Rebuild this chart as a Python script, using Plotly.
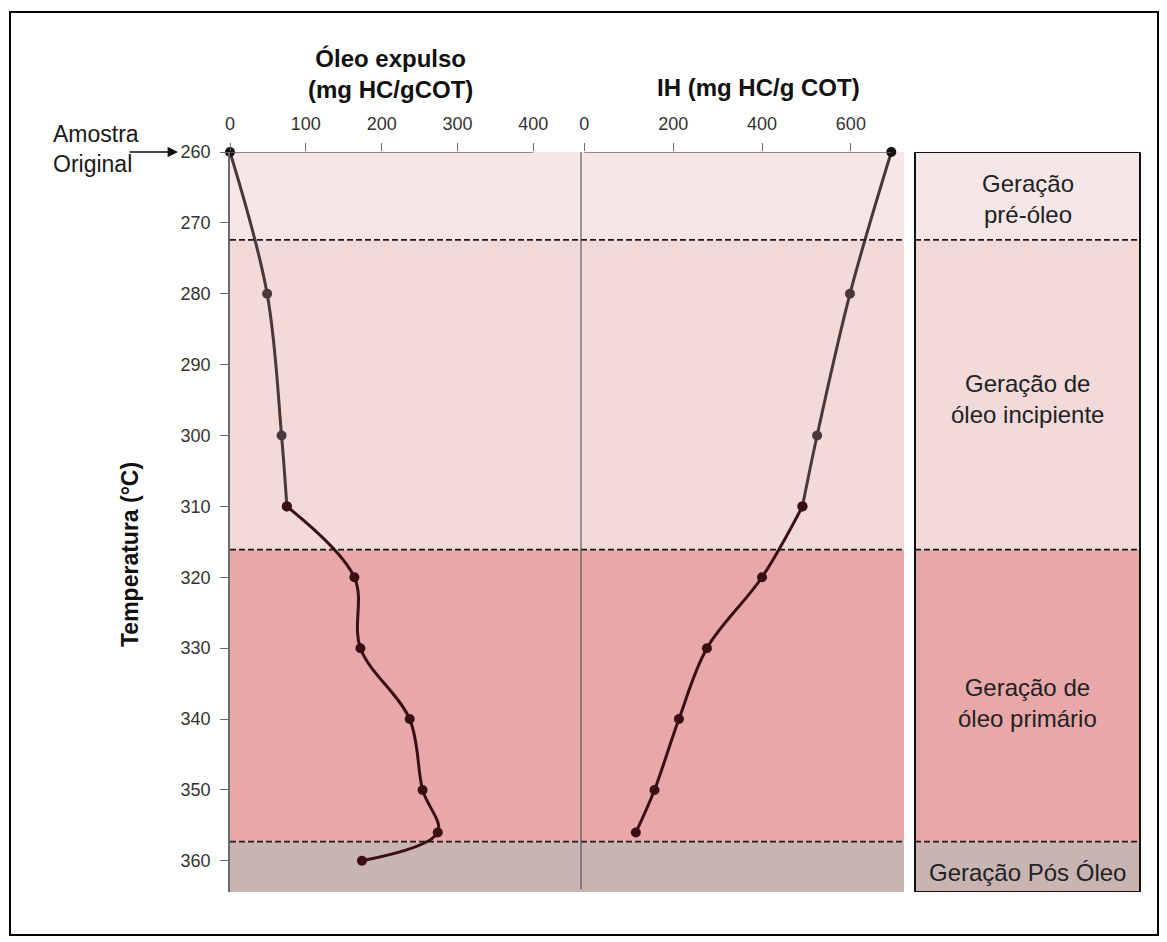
import plotly.graph_objects as go

# ---------------- data ----------------
temps_oleo = [260, 280, 300, 310, 320, 330, 340, 350, 356, 360]
oleo_expulso = [0, 49, 68, 75, 164, 172, 237, 254, 274, 174]

temps_ih = [260, 280, 300, 310, 320, 330, 340, 350, 356]
ih_values = [691, 598, 524, 491, 400, 276, 213, 158, 116]

zone_bounds = [260, 272.4, 316.1, 357.3, 364.4]
zone_labels = ["Geração<br>pré-óleo", "Geração de<br>óleo incipiente",
               "Geração de<br>óleo primário", "Geração Pós Óleo"]
zone_colors = ["#f5e7e8", "#f2d9da", "#e8a7a8", "#c9b4b4"]

oleo_ticks = [0, 100, 200, 300, 400]
ih_ticks = [0, 200, 400, 600]
temp_ticks = [260, 270, 280, 290, 300, 310, 320, 330, 340, 350, 360]

# ---------------- layout helpers ----------------
W, H = 1167, 942
def px(x):
    return x / W
def py(y):
    return 1 - y / H

FONT = "Liberation Sans, Arial, sans-serif"
TOP_COLOR = "#4a3737"
BOT_COLOR = "#3a0f13"

fig = go.Figure()

split = 3  # index of 310 point, colour changes there
# Óleo expulso
fig.add_trace(go.Scatter(
    x=oleo_expulso[:split + 1], y=temps_oleo[:split + 1], xaxis="x", yaxis="y",
    mode="lines+markers", line=dict(color=TOP_COLOR, width=3, shape="spline"),
    marker=dict(size=10, color=["#151010"] + [TOP_COLOR] * split),
    cliponaxis=False, showlegend=False))
fig.add_trace(go.Scatter(
    x=oleo_expulso[split:], y=temps_oleo[split:], xaxis="x", yaxis="y",
    mode="lines+markers", line=dict(color=BOT_COLOR, width=3, shape="spline"),
    marker=dict(size=10, color=BOT_COLOR),
    cliponaxis=False, showlegend=False))
# IH
fig.add_trace(go.Scatter(
    x=ih_values[:split + 1], y=temps_ih[:split + 1], xaxis="x2", yaxis="y",
    mode="lines+markers", line=dict(color=TOP_COLOR, width=3, shape="spline"),
    marker=dict(size=10, color=["#151010"] + [TOP_COLOR] * split),
    cliponaxis=False, showlegend=False))
fig.add_trace(go.Scatter(
    x=ih_values[split:], y=temps_ih[split:], xaxis="x2", yaxis="y",
    mode="lines+markers", line=dict(color=BOT_COLOR, width=3, shape="spline"),
    marker=dict(size=10, color=BOT_COLOR),
    cliponaxis=False, showlegend=False))

shapes = []
plot_x0, plot_x1 = px(230), px(904)
pan_x0, pan_x1 = px(915), px(1140)
for i, col in enumerate(zone_colors):
    for a, b in [(plot_x0, plot_x1), (pan_x0, pan_x1)]:
        shapes.append(dict(type="rect", xref="paper", yref="y", x0=a, x1=b,
                           y0=zone_bounds[i], y1=zone_bounds[i + 1],
                           fillcolor=col, line=dict(width=0), layer="below"))
for yb in zone_bounds[1:-1]:
    for a, b in [(plot_x0, plot_x1), (pan_x0, pan_x1)]:
        shapes.append(dict(type="line", xref="paper", yref="y", x0=a, x1=b,
                           y0=yb, y1=yb, line=dict(color="#1a1a1a", width=1.8, dash="6px,3px"),
                           layer="above"))
# panel border
shapes.append(dict(type="rect", xref="paper", yref="y", x0=pan_x0, x1=pan_x1,
                   y0=zone_bounds[0], y1=zone_bounds[-1],
                   line=dict(color="#111111", width=2), fillcolor="rgba(0,0,0,0)"))
# divider line between panels (IH axis)
shapes.append(dict(type="line", xref="paper", yref="y", x0=px(581), x1=px(581),
                   y0=zone_bounds[0], y1=364.0, line=dict(color="#444444", width=1)))
# top axis lines
shapes.append(dict(type="line", xref="x", yref="y", x0=0, x1=oleo_ticks[-1],
                   y0=260, y1=260, line=dict(color="#6a6a6a", width=1.5)))
shapes.append(dict(type="line", xref="x2", yref="y", x0=0, x1=ih_values[0],
                   y0=260, y1=260, line=dict(color="#6a6a6a", width=1.5)))
# outer frame
shapes.append(dict(type="rect", xref="paper", yref="paper", x0=px(10), x1=px(1158),
                   y0=py(935), y1=py(12), line=dict(color="#000000", width=2),
                   fillcolor="rgba(0,0,0,0)"))

annotations = [
    dict(text="<b>Óleo expulso<br>(mg HC/gCOT)</b>", xref="paper", yref="paper",
         x=px(390), y=py(74), showarrow=False, font=dict(size=24, color="#111111", family=FONT),
         xanchor="center", yanchor="middle"),
    dict(text="<b>IH (mg HC/g COT)</b>", xref="paper", yref="paper",
         x=px(758), y=py(88), showarrow=False, font=dict(size=24, color="#111111", family=FONT),
         xanchor="center", yanchor="middle"),
    dict(text="<b>Temperatura (°C)</b>", xref="paper", yref="paper",
         x=px(130), y=py(555), showarrow=False, textangle=-90,
         font=dict(size=23, color="#111111", family=FONT), xanchor="center", yanchor="middle"),
    dict(text="Amostra<br>Original", xref="paper", yref="paper", x=px(51), y=py(149),
         showarrow=False, align="left", font=dict(size=23, color="#1a1a1a", family=FONT),
         xanchor="left", yanchor="middle"),
    dict(text="", xref="paper", yref="paper", x=px(178), y=py(152), ax=-50, ay=0,
         showarrow=True, arrowhead=2, arrowsize=1.6, arrowwidth=1.3, arrowcolor="#111111"),
]
zone_text_y = [199, 399, 703, 872]
for lbl, yy in zip(zone_labels, zone_text_y):
    annotations.append(dict(text=lbl, xref="paper", yref="paper", x=px(1027.5), y=py(yy),
                            showarrow=False, font=dict(size=24, color="#222222", family=FONT),
                            xanchor="center", yanchor="middle", align="center"))

tick_font = dict(size=18, color="#333333", family=FONT)
fig.update_layout(
    width=W, height=H,
    margin=dict(l=0, r=0, t=0, b=0, pad=0, autoexpand=False),
    paper_bgcolor="white", plot_bgcolor="white",
    showlegend=False,
    font=dict(family=FONT),
    xaxis=dict(domain=[px(230), px(580)], range=[0, 461.6], side="top", anchor="y",
               tickvals=oleo_ticks, ticks="outside", ticklen=8, tickwidth=1.3,
               tickcolor="#6a6a6a", showline=False, showgrid=False, zeroline=False,
               tickfont=tick_font, ticklabelstandoff=6, automargin=False),
    xaxis2=dict(domain=[px(580), px(904)], range=[-9.7, 719.6], side="top", anchor="y",
                tickvals=ih_ticks, ticks="outside", ticklen=8, tickwidth=1.3,
                tickcolor="#6a6a6a", showline=False, showgrid=False, zeroline=False,
                tickfont=tick_font, ticklabelstandoff=6, automargin=False),
    yaxis=dict(domain=[py(892), py(152)], range=[364.4, 260], anchor="x",
               tickvals=temp_ticks, ticks="outside", ticklen=8, tickwidth=1.3,
               tickcolor="#6a6a6a", showline=True, linecolor="#6a6a6a", linewidth=1.5,
               showgrid=False, zeroline=False, tickfont=tick_font, ticklabelstandoff=6,
               automargin=False),
    shapes=shapes,
    annotations=annotations,
)

fig.write_html("out.html", config={"displayModeBar": False},
               post_script="document.body.style.margin='0';document.body.style.padding='0';")
